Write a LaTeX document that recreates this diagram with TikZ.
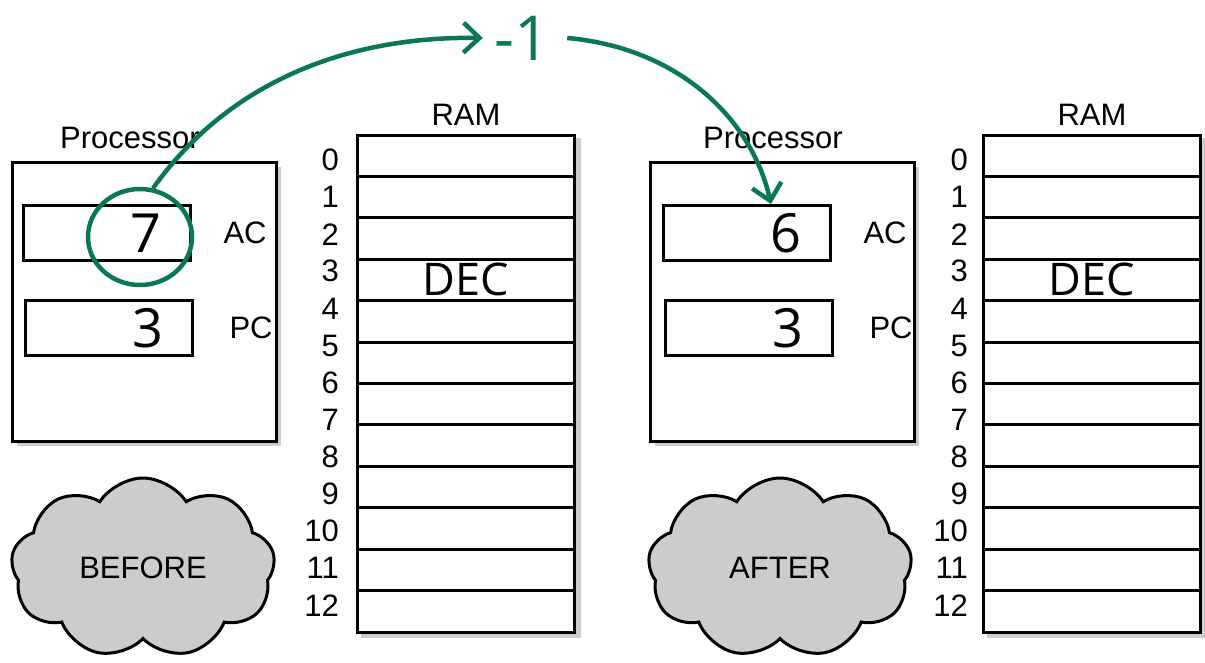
\documentclass[tikz,border=0pt]{standalone}
\usepackage{fontspec}
\setmainfont{Liberation Sans}
\newfontfamily\handfont{Open Sans}
\usepackage{tikz}
\usetikzlibrary{arrows.meta,positioning,shapes.symbols,shapes.geometric,shadows,backgrounds,fit}
\definecolor{penGreen}{RGB}{10,120,80}

\begin{document}
\begin{tikzpicture}[
  x=1pt, y=-1pt,
  font=\fontsize{31}{34}\selectfont,
  shade/.style={drop shadow={shadow xshift=5pt, shadow yshift=-4pt, fill=black!25, opacity=0.8}},
  proc/.style={draw, line width=3pt, minimum width=264pt, minimum height=279pt, fill=white, shade},
  reg/.style={draw, line width=3pt, minimum width=167pt, minimum height=55pt, text width=109pt, align=right, inner xsep=29pt, font=\handfont\fontsize{54}{54}\selectfont},
  cell/.style={draw, line width=3pt, minimum width=217pt, minimum height=41.42pt, inner sep=0pt},
  addr/.style={anchor=east, inner sep=0pt},
  hand/.style={font=\handfont\fontsize{45}{45}\selectfont},
  cloudy/.style={cloud, cloud puffs=9, cloud puff arc=115, draw, line width=3pt, fill=black!20, minimum width=264pt, minimum height=180pt, aspect=1.5},
  pen/.style={draw=penGreen, line width=4.5pt},
  penarr/.style={pen, -{Straight Barb[length=16pt, width=30pt, line width=4.5pt]}}
]
  \useasboundingbox (0,0) rectangle (1205,662);

  % Before: processor
  \node[proc] (procB) at (144,302) {};
  \node (procBl) at (130,138) {Processor};
  \node[reg] (acB) at (107,233) {7};
  \node[reg] (pcB) at (109,328) {3};
  \node[right=28pt of acB] (acBl) {AC};
  \node[right=32pt of pcB] (pcBl) {PC};

  % Before: RAM (12 cells, 13 addresses)
  \foreach \i in {0,...,11}
    \node[cell] (ramB\i) at (466,{135+41.42*(\i+0.5)}) {};
  \foreach \i in {0,...,12}
    \node[addr] (adrB\i) at (339,{160+37.1*\i}) {\i};
  \begin{scope}[on background layer]
    \node[fit=(ramB0)(ramB11), inner sep=0pt, fill=white, shade] (ramB) {};
  \end{scope}
  \node (ramBl) at (466,115) {RAM};
  \node[hand, yshift=1pt] (decB) at (ramB3) {DEC};

  % After: processor
  \node[proc] (procA) at (782,302) {};
  \node (procAl) at (773,138) {Processor};
  \node[reg] (acA) at (747,233) {6};
  \node[reg] (pcA) at (749,328) {3};
  \node[right=28pt of acA] (acAl) {AC};
  \node[right=32pt of pcA] (pcAl) {PC};

  % After: RAM (12 cells, 13 addresses)
  \foreach \i in {0,...,11}
    \node[cell] (ramA\i) at (1092,{135+41.42*(\i+0.5)}) {};
  \foreach \i in {0,...,12}
    \node[addr] (adrA\i) at (968,{160+37.1*\i}) {\i};
  \begin{scope}[on background layer]
    \node[fit=(ramA0)(ramA11), inner sep=0pt, fill=white, shade] (ramA) {};
  \end{scope}
  \node (ramAl) at (1092,115) {RAM};
  \node[hand, yshift=1pt] (decA) at (ramA3) {DEC};

  % Clouds
  \node[cloudy] (before) at (143,568) {BEFORE};
  \node[cloudy] (after) at (780,568) {AFTER};

  % Decrement (green pen)
  \node[ellipse, pen, minimum width=104pt, minimum height=96pt, inner sep=0pt] (ring) at (140,237) {};
  \node[text=penGreen, font=\handfont\fontsize{62}{62}\selectfont] (minus) at (522,38) {-1};
  \coordinate (hit) at ([xshift=24pt]acA.north);
  \draw[penarr] (ring.75) .. controls (230,80) and (350,36) .. ([xshift=-8pt]minus.west);
  \draw[penarr] ([xshift=14pt]minus.east) .. controls (680,48) and (752,120) .. (hit);
\end{tikzpicture}
\end{document}
